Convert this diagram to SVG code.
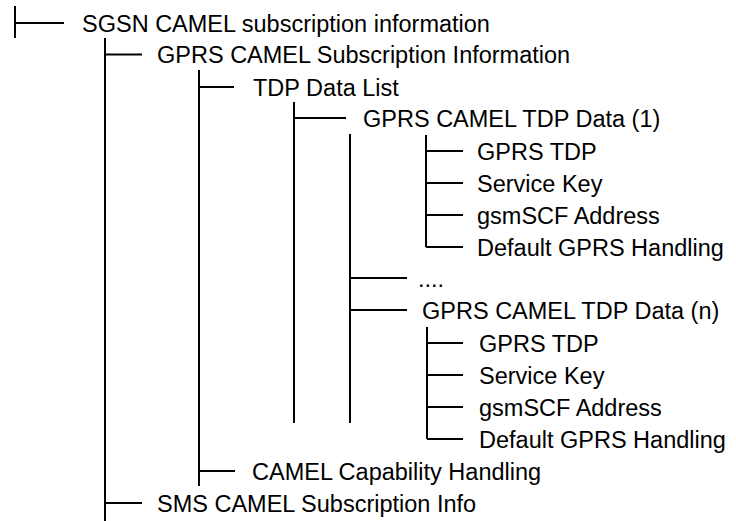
<svg xmlns="http://www.w3.org/2000/svg" width="736" height="521" viewBox="0 0 736 521">
<style>
.t{font-family:"Liberation Sans",Arial,Helvetica,sans-serif;font-size:23.5px;fill:#000}
.c{stroke:#000;stroke-width:2;fill:none}
</style>
<rect width="736" height="521" fill="#fff"/>
<g id="connectors" class="c">
<path d="M15 6V38M15 23H64"/>
<path d="M105 38V521M105 54.5H142M105 503H142"/>
<path d="M199 70V486M199 87H234M199 471H235"/>
<path d="M294 102V423M294 118H346"/>
<path d="M350 134V423M350 278H407M350 310H407"/>
<path d="M426 135V247M426 151H463M426 183H463M426 215H463M426 247H463"/>
<path d="M427 327V439M427 343H463M427 375H463M427 407H463M427 439H463"/>
</g>
<g id="n-sgsn"><text class="t" x="82" y="31.5">SGSN CAMEL subscription information</text></g>
<g id="n-gprs-csi"><text class="t" x="157" y="63">GPRS CAMEL Subscription Information</text></g>
<g id="n-tdp-list"><text class="t" x="253" y="95.5">TDP Data List</text></g>
<g id="n-tdp1"><text class="t" x="363" y="126.5">GPRS CAMEL TDP Data (1)</text></g>
<g id="n-tdp1-tdp"><text class="t" x="477" y="159.5">GPRS TDP</text></g>
<g id="n-tdp1-key"><text class="t" x="477" y="191.5">Service Key</text></g>
<g id="n-tdp1-scf"><text class="t" x="477" y="223.5">gsmSCF Address</text></g>
<g id="n-tdp1-def"><text class="t" x="477" y="255.5">Default GPRS Handling</text></g>
<g id="n-dots"><text class="t" x="418" y="286.5">....</text></g>
<g id="n-tdpn"><text class="t" x="422" y="318.5">GPRS CAMEL TDP Data (n)</text></g>
<g id="n-tdpn-tdp"><text class="t" x="479" y="351.5">GPRS TDP</text></g>
<g id="n-tdpn-key"><text class="t" x="479" y="383.5">Service Key</text></g>
<g id="n-tdpn-scf"><text class="t" x="479" y="415.5">gsmSCF Address</text></g>
<g id="n-tdpn-def"><text class="t" x="479" y="447.5">Default GPRS Handling</text></g>
<g id="n-cch"><text class="t" x="252" y="479.5">CAMEL Capability Handling</text></g>
<g id="n-sms"><text class="t" x="157" y="511.5">SMS CAMEL Subscription Info</text></g>
</svg>
